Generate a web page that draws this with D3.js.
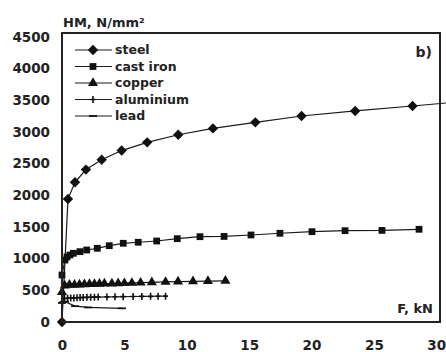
<!DOCTYPE html>
<html>
<head>
<meta charset="utf-8">
<script src="https://cdn.jsdelivr.net/npm/d3@7"></script>
<style>
  body { margin: 0; background: #fff; }
  text { font-family: "DejaVu Sans", sans-serif; font-weight: bold; fill: #222; }
</style>
</head>
<body>
<div id="chart"></div>
<script>
// values (F in kN, HM in N/mm²)
var steelF   = [0, 0.48, 1.04, 1.92, 3.18, 4.78, 6.83, 9.32, 12.1, 15.5, 19.2, 23.5, 28.1, 30.8];
var steelHM  = [0, 1940, 2205, 2405, 2560, 2705, 2835, 2955, 3055, 3150, 3250, 3330, 3408, 3456];
var castF    = [0, 0.24, 0.40, 0.64, 0.91, 1.44, 1.98, 2.83, 3.79, 4.91, 6.11, 7.59, 9.24, 11.06, 12.99, 15.15, 17.47, 20.04, 22.69, 25.65, 28.62];
var castHM   = [742, 978, 1026, 1057, 1084, 1110, 1136, 1163, 1204, 1242, 1258, 1278, 1315, 1346, 1350, 1373, 1400, 1425, 1441, 1445, 1463];
var copperF  = [0, 0.22, 0.6, 1.0, 1.4, 1.8, 2.2, 2.6, 3.0, 3.4, 4.0, 4.5, 5.0, 5.6, 6.3, 7.2, 8.3, 9.3, 10.5, 11.7, 13.1];
var copperHM = [470, 575, 585, 588, 592, 595, 598, 600, 602, 605, 607, 610, 612, 616, 620, 626, 632, 636, 640, 645, 650];
var aluF     = [0, 0.2, 0.45, 0.7, 0.95, 1.2, 1.45, 1.7, 2.0, 2.3, 2.6, 2.9, 3.6, 4.25, 4.9, 5.7, 6.4, 7.1, 7.7, 8.3];
var aluHM    = [320, 370, 375, 378, 380, 383, 385, 387, 389, 390, 392, 394, 396, 398, 400, 402, 404, 405, 407, 408];
var leadF    = [0, 0.24, 1.05, 2.1, 4.8];
var leadHM   = [300, 320, 250, 230, 216];

var seriesNames = ["steel", "cast iron", "copper", "aluminium", "lead"];
var xTicks = [0, 5, 10, 15, 20, 25, 30];
var yTicks = [0, 500, 1000, 1500, 2000, 2500, 3000, 3500, 4000, 4500];

var width = 446, height = 352;
var margin = { top: 33, right: 6, bottom: 30, left: 62 };

var svg = d3.select("#chart").append("svg")
    .attr("width", width)
    .attr("height", height);

var x = d3.scaleLinear().domain([0, 30.3]).range([margin.left, width - margin.right]);
var y = d3.scaleLinear().domain([0, 4560]).range([height - margin.bottom, margin.top]);

function zip(fs, hs) {
    return fs.map(function (f, i) { return { f: f, hm: hs[i] }; });
}

var series = [
    { name: seriesNames[0], data: zip(steelF, steelHM), marker: "diamond" },
    { name: seriesNames[1], data: zip(castF, castHM), marker: "square" },
    { name: seriesNames[2], data: zip(copperF, copperHM), marker: "triangle" },
    { name: seriesNames[3], data: zip(aluF, aluHM), marker: "plus" },
    { name: seriesNames[4], data: zip(leadF, leadHM), marker: "dash" }
];

function drawMarker(g, type) {
    if (type == "diamond") {
        g.append("path").attr("d", d3.symbol().type(d3.symbolSquare).size(54))
            .attr("transform", "rotate(45)").attr("fill", "#111");
    } else if (type == "square") {
        g.append("path").attr("d", d3.symbol().type(d3.symbolSquare).size(46)).attr("fill", "#111");
    } else if (type == "triangle") {
        g.append("path").attr("d", d3.symbol().type(d3.symbolTriangle).size(44)).attr("fill", "#111");
    } else if (type == "plus") {
        g.append("path").attr("d", "M0,-3.5V3.5M-2.5,0H2.5")
            .attr("stroke", "#111").attr("stroke-width", 1.6).attr("fill", "none");
    } else {
        g.append("path").attr("d", "M-4,0H4")
            .attr("stroke", "#111").attr("stroke-width", 1.8).attr("fill", "none");
    }
}

// axes (labels only, no ticks)
var yAxis = svg.append("g")
    .attr("transform", "translate(" + margin.left + ",0)")
    .call(d3.axisLeft(y).tickValues(yTicks).tickFormat(d3.format("d")).tickSize(0).tickPadding(12));
yAxis.select(".domain").remove();
yAxis.selectAll("text").style("font-size", "13.5px").style("font-family", "DejaVu Sans").style("font-weight", "bold").attr("fill", "#222");

var xAxis = svg.append("g")
    .attr("transform", "translate(0," + (height - margin.bottom) + ")")
    .call(d3.axisBottom(x).tickValues(xTicks).tickFormat(d3.format("d")).tickSize(0).tickPadding(18));
xAxis.select(".domain").remove();
xAxis.selectAll("text").style("font-size", "13.5px").style("font-family", "DejaVu Sans").style("font-weight", "bold").attr("fill", "#222");

var line = d3.line()
    .x(function (d) { return x(d.f); })
    .y(function (d) { return y(d.hm); });

series.forEach(function (s) {
    svg.append("path")
        .datum(s.data)
        .attr("fill", "none")
        .attr("stroke", "#1a1a1a")
        .attr("stroke-width", 1.2)
        .attr("d", line);
    svg.selectAll(null)
        .data(s.data.filter(function (d) { return d.f <= 30.3; }))
        .enter()
        .append("g")
        .attr("transform", function (d) { return "translate(" + x(d.f) + "," + y(d.hm) + ")"; })
        .each(function () { drawMarker(d3.select(this), s.marker); });
});

// frame
svg.append("rect")
    .attr("x", x(0))
    .attr("y", margin.top)
    .attr("width", width - margin.right - margin.left)
    .attr("height", height - margin.bottom - margin.top)
    .attr("fill", "none")
    .attr("stroke", "#222")
    .attr("stroke-width", 2);

// legend
var legend = svg.append("g").attr("transform", "translate(75,50)");
series.forEach(function (s, i) {
    var row = legend.append("g").attr("transform", "translate(0," + (i * 16.5) + ")");
    row.append("line").attr("x1", 0).attr("x2", 37).attr("y1", 0).attr("y2", 0)
        .attr("stroke", "#1a1a1a").attr("stroke-width", 1.2);
    drawMarker(row.append("g").attr("transform", "translate(18,0)"), s.marker);
    row.append("text").attr("x", 40).attr("y", 0).attr("dy", "0.35em")
        .style("font-size", "12.5px").text(s.name);
});

// titles
svg.append("text").attr("x", 63).attr("y", 27).style("font-size", "13px").text("HM, N/mm²");
svg.append("text").attr("x", 432).attr("y", 57).attr("text-anchor", "end").style("font-size", "14px").text("b)");
svg.append("text").attr("x", 433).attr("y", 313).attr("text-anchor", "end").style("font-size", "13px").text("F, kN");
</script>
</body>
</html>
